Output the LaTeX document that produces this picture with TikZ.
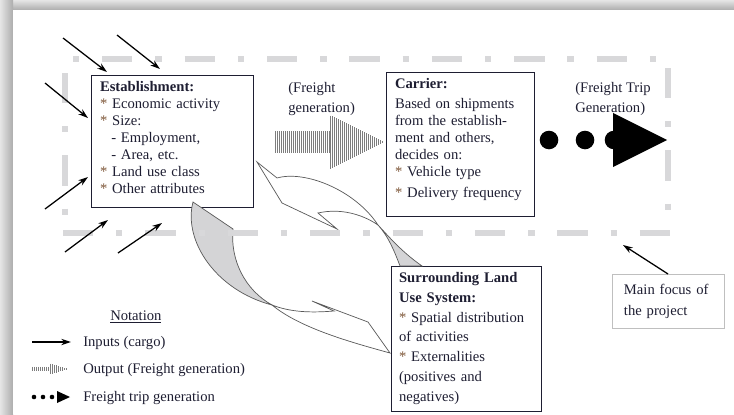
\documentclass[tikz,border=0pt]{standalone}
\usepackage{fontspec}
\setmainfont{Liberation Serif}
\usetikzlibrary{arrows.meta}
\definecolor{ink}{RGB}{30,30,50}
\definecolor{starbrown}{RGB}{125,85,55}
\definecolor{framegray}{RGB}{216,216,218}
\definecolor{ribbongray}{RGB}{212,212,214}
\definecolor{hatchgray}{RGB}{125,125,125}
\newcommand{\st}{{\color{starbrown}*}}
\newcommand{\lowpad}[1]{\rule[-#1]{0pt}{#1}}
\newcommand{\hatcharrow}[2][]{
  \begin{scope}[#1]
    \pgfmathtruncatemacro{\nshaft}{54/#2}
    \pgfmathtruncatemacro{\nhead}{53/#2}
    \foreach \i in {0,...,\nshaft}{
      \draw[hatchline] ({\i*#2},-11) -- ({\i*#2},11);
    }
    \foreach \i in {0,...,\nhead}{
      \pgfmathsetmacro{\hx}{55+\i*#2}
      \pgfmathsetmacro{\hh}{26.5*(109-\hx)/54}
      \draw[hatchline] (\hx,-\hh) -- (\hx,\hh);
    }
  \end{scope}
}
\tikzset{
  infobox/.style={draw=ink,line width=.6pt,anchor=north west,align=left,
    text=ink,outer sep=0pt,inner ysep=0pt,font=\fontsize{10.4}{12.1}\selectfont},
  plaintext/.style={text=ink,inner sep=0pt,align=left,font=\fontsize{10.4}{14.2}\selectfont},
  inarrow/.style={-{Stealth[length=7pt,width=4.5pt]},line width=.9pt,black},
  hatchline/.style={hatchgray,line width=.4pt},
  ribbon/.style={draw=black!65,line width=.5pt},
  focusframe/.style={framegray,line width=4.3pt,
    dash pattern=on 21.5pt off 16.3pt on 4.5pt off 16.3pt}
}
\begin{document}
\begin{tikzpicture}[x=0.025cm,y=-0.025cm]
  \useasboundingbox (0,0) rectangle (734,414);
  % page shadow
  \shade[top color=gray!20,bottom color=gray!65] (0,0) rectangle (734,10);
  \shade[left color=gray!20,right color=gray!65] (0,0) rectangle (13,414);
  \fill[white] (13,10) rectangle (734,414);

  % boxes
  \node[infobox,minimum width=115.2pt,minimum height=93.9pt,text width=102.4pt,
    inner xsep=6.4pt] (est) at (91,75)
    {\textbf{Establishment:}\\ \st\ Economic activity\\ \st\ Size:\\
     \hspace*{8pt}- Employment,\\ \hspace*{8pt}- Area, etc.\\
     \st\ Land use class\\ \st\ Other attributes\lowpad{5.3pt}};
  \node[infobox,minimum width=105.3pt,minimum height=102.4pt,text width=92.5pt,
    inner xsep=6.4pt] (carrier) at (386,72)
    {\textbf{Carrier:}\\[2pt] Based on shipments\\ from the establish-\\
     ment and others,\\ decides on:\\ \st\ Vehicle type\\[2.8pt] \st\ Delivery frequency\lowpad{9.2pt}};
  \node[infobox,minimum width=106.7pt,minimum height=103.1pt,text width=95.3pt,
    inner xsep=5.7pt,font=\fontsize{10.4}{14.2}\selectfont] (landuse) at (391,266)
    {\textbf{Surrounding Land}\\ \textbf{Use System:}\\ \st\ Spatial distribution\\
     of activities\\ \st\ Externalities\\ (positives and\\ negatives)};
  \node[infobox,draw=black!25,minimum width=79.7pt,minimum height=38.4pt,text width=62.7pt,
    inner xsep=8.5pt,font=\fontsize{10.4}{15}\selectfont] (focus) at (612,274)
    {Main focus of\\ the project};

  % labels
  \node[plaintext,anchor=north west] (fglabel) at (288,82) {(Freight\\ generation)};
  \node[plaintext,anchor=north west] (ftlabel) at (575,82) {(Freight Trip\\ Generation)};

  % freight generation
  \hatcharrow[shift={(275,142)}]{2}

  % freight trip generation
  \fill[black] (549,140) circle (9.3) (585,140) circle (9.3) (614,140) circle (9.3);
  \fill[black] (613,113) -- (667,140) -- (613,167) -- cycle;

  % twisted ribbons
  \filldraw[ribbon,fill=white] (257,162) -- (277,178)
    .. controls (305,170) and (355,190) .. (378,225)
    .. controls (362,214) and (340,208) .. (318,213) -- (337,229) -- (282,203) -- cycle;
  \filldraw[ribbon,fill=ribbongray] (378,225) .. controls (390,238) and (402,252) .. (422,266)
    -- (400,266) .. controls (394,250) and (388,236) .. (378,225) -- cycle;
  \filldraw[ribbon,fill=ribbongray] (193,202) -- (233,229)
    .. controls (230,260) and (245,290) .. (272,305)
    .. controls (215,290) and (183,240) .. (193,202) -- cycle;
  \filldraw[ribbon,fill=white] (272,305) .. controls (300,328) and (350,342) .. (390,353)
    -- (368,322) -- (312,301) -- (334,311)
    .. controls (310,313) and (290,312) .. (272,305) -- cycle;

  % main focus frame
  \draw[focusframe,dash phase=37.8pt] (73,59) -- (660,59);
  \draw[focusframe] (65,73) -- (65,222);
  \draw[focusframe] (63,233) -- (672,233);
  \draw[focusframe] (668,68) -- (668,222);

  % inputs
  \foreach \ax/\ay/\bx/\by [count=\i] in {63/38/107/72, 117/35/160/69, 45/83/88/118,
      45/209/88/177, 65/252/108/220, 118/253/162/223}{
    \coordinate (in\i) at (\ax,\ay);
    \coordinate (to\i) at (\bx,\by);
    \draw[inarrow] (in\i) -- (to\i);
  }
  \coordinate (focustip) at (623,245);
  \draw[inarrow] (focus.north) -- (focustip);

  % notation
  \node[plaintext,anchor=base west] (notation) at (110,320) {\underline{Notation}};
  \coordinate (lgin) at (32,342);
  \coordinate (lgout) at (71,342);
  \draw[inarrow] (lgin) -- (lgout);
  \node[plaintext,anchor=base west] (lginputs) at (83,346) {Inputs (cargo)};
  \hatcharrow[shift={(32,369)},xscale=0.33,yscale=0.2]{6}
  \node[plaintext,anchor=base west] (lgoutput) at (83,373.5) {Output (Freight generation)};
  \fill[black] (34,397) circle (2.3) (43,397) circle (2.3) (52,397) circle (2.3);
  \fill[black] (57,391) -- (70,397) -- (57,403) -- cycle;
  \node[plaintext,anchor=base west] (lgtrip) at (83,401) {Freight trip generation};
\end{tikzpicture}
\end{document}
